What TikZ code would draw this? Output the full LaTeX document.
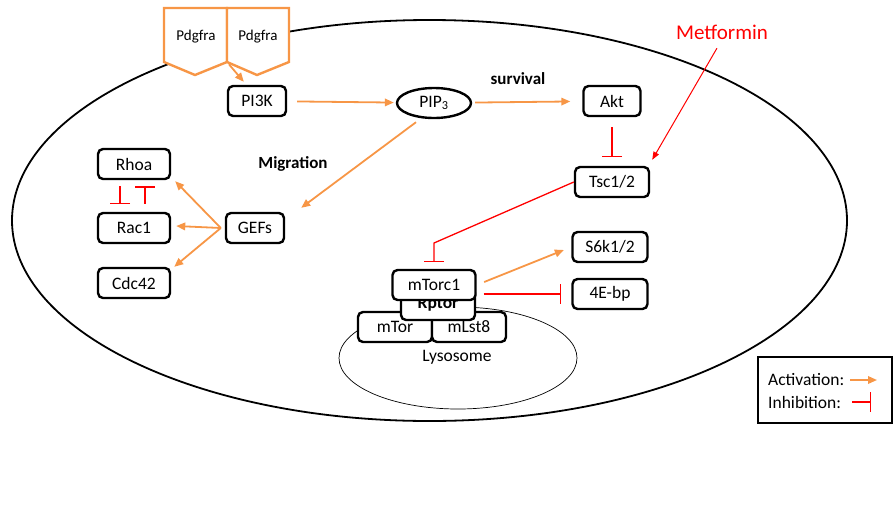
\documentclass[tikz,border=0pt]{standalone}
\usepackage{fontspec}
\setmainfont{Carlito}
\usetikzlibrary{arrows.meta,shapes.geometric}
\definecolor{actorange}{HTML}{F79646}
\definecolor{inhred}{HTML}{FF0000}
\begin{document}
\begin{tikzpicture}[x=1pt,y=-1pt,
  box/.style={draw, line width=2.4pt, rounded corners=5pt, fill=white, inner sep=0pt,
    minimum height=30pt, font=\fontsize{17.5}{20}\selectfont},
  act/.style={draw=actorange, line width=1.8pt, -{Triangle[length=9pt,width=7.5pt]}},
  inh/.style={draw=inhred, line width=1.3pt, -{Bar[width=20pt]}},
  drug/.style={draw=inhred, line width=1pt, -{Triangle[length=8pt,width=6pt]}},
  lbl/.style={font=\fontsize{17}{20}\selectfont\bfseries, inner sep=0pt},
  plain/.style={font=\fontsize{17.5}{20}\selectfont, inner sep=0pt},
  receptor/.style={draw=actorange, line width=2.4pt, fill=white, line join=miter}
]
\useasboundingbox (0,0) rectangle (894,512);

% cell and lysosome membranes
\draw[line width=1.8pt] (429.5,220.5) ellipse [x radius=417.5, y radius=200.5];
\draw[line width=0.7pt] (458,358) ellipse [x radius=119, y radius=51];
\node[plain] (lyso) at (457,357) {Lysosome};

% receptor dimer
\draw[receptor] (164,8) -- (227,8) -- (227,62) -- (195,75) -- (164,62) -- cycle;
\draw[receptor] (227,8) -- (289,8) -- (289,62) -- (257,75) -- (227,62) -- cycle;
\node[font=\fontsize{15}{18}\selectfont] (pdgfraA) at (196,37) {Pdgfra};
\node[font=\fontsize{15}{18}\selectfont] (pdgfraB) at (258,37) {Pdgfra};
\coordinate (rcpt) at (227,62);

% signalling nodes
\node[box, minimum width=58pt] (pi3k) at (257,101) {PI3K};
\node[draw, line width=2.4pt, ellipse, minimum width=74pt, minimum height=30pt, inner sep=0pt,
  font=\fontsize{17.5}{20}\selectfont] (pip3) at (434,103) {PIP\textsubscript{3}};
\node[box, minimum width=57pt] (akt) at (612,101) {Akt};
\node[box, minimum width=74pt] (tsc) at (612,182) {Tsc1/2};
\node[box, minimum width=75pt] (s6k) at (610,247) {S6k1/2};
\node[box, minimum width=75pt] (ebp) at (610,294) {4E-bp};
\node[box, minimum width=58pt] (gefs) at (255,228) {GEFs};
\node[box, minimum width=72pt] (rhoa) at (134,164) {Rhoa};
\node[box, minimum width=72pt] (rac1) at (134,228) {Rac1};
\node[box, minimum width=72pt] (cdc42) at (134,283) {Cdc42};

% mTORC1 complex on the lysosome
\node[box, minimum width=74pt] (mtor) at (395,327) {mTor};
\node[box, minimum width=74pt] (mlst8) at (469,327) {mLst8};
\node[box, minimum width=74pt, minimum height=32pt, font=\fontsize{17.5}{20}\selectfont\bfseries] (rptor) at (438,304) {Rptor};
\node[box, minimum width=83pt] (mtorc1) at (434,285) {mTorc1};

% labels
\node[plain, text=inhred, font=\fontsize{21}{24}\selectfont] (met) at (722,32) {Metformin};
\node[lbl] (surv) at (518,79) {survival};
\node[lbl] (migr) at (293,164) {Migration};

% activations
\draw[act, shorten <=3pt] (rcpt) -- ([shift={(17,-3)}]pi3k.north west);
\draw[act, shorten <=10pt, shorten >=2pt] (pi3k) -- (pip3);
\draw[act, shorten <=3pt, shorten >=12pt] (pip3) -- (akt);
\draw[act] ([shift={(-18,3)}]pip3.south) -- ([shift={(16,-4)}]gefs.north east);
\coordinate (gsrc) at ([xshift=-4pt]gefs.west);
\draw[act] (gsrc) -- ([shift={(4,1)}]rhoa.south east);
\draw[act] (gsrc) -- ([shift={(5,-2)}]rac1.east);
\draw[act] (gsrc) -- ([shift={(3,0)}]cdc42.north east);
\draw[act, shorten <=8pt, shorten >=8pt] (mtorc1.east) -- (s6k.west);

% inhibitions
\draw[inh, shorten <=10pt, shorten >=9pt] (akt) -- (tsc);
\coordinate (bend) at (434,243);
\draw[inh, shorten >=7pt] (tsc.west) -- (bend) -- (mtorc1.north);
\draw[inh, shorten <=7pt, shorten >=10pt] (mtorc1.east |- ebp.west) -- (ebp.west);
\draw[inh, shorten <=6pt, shorten >=8pt] ([xshift=-14pt]rhoa.south) -- ([xshift=-14pt]rac1.north);
\draw[inh, shorten <=8pt, shorten >=6pt] ([xshift=11pt]rac1.north) -- ([xshift=11pt]rhoa.south);

% drug action
\draw[drug, shorten <=10pt] (met.south) -- ([shift={(2,-6)}]tsc.north east);

% legend
\node[draw, line width=2.4pt, fill=white, minimum width=134pt, minimum height=66pt, inner sep=0pt] (legend) at (825,390) {};
\node[plain, anchor=west] (acttxt) at (768,380) {Activation:};
\node[plain, anchor=west] (inhtxt) at (768,402) {Inhibition:};
\coordinate (actA) at (850,380);
\coordinate (actB) at (877,380);
\coordinate (inhA) at (852,402);
\coordinate (inhB) at (871,402);
\draw[act] (actA) -- (actB);
\draw[inh] (inhA) -- (inhB);
\end{tikzpicture}
\end{document}
